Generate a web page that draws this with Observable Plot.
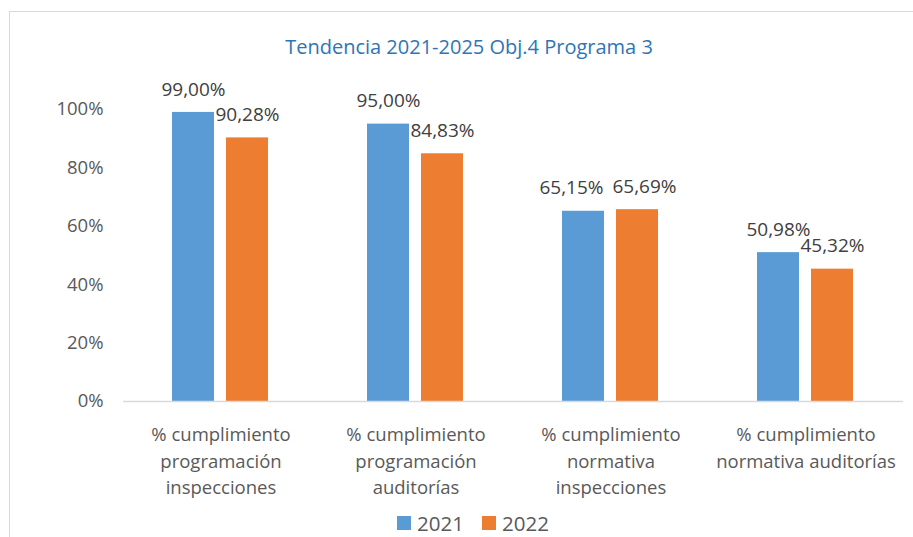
<!DOCTYPE html>
<html>
<head>
<meta charset="utf-8">
<script src="https://cdn.jsdelivr.net/npm/d3@7"></script>
<script src="https://cdn.jsdelivr.net/npm/@observablehq/plot@0.6"></script>
<style>
  html, body { margin: 0; padding: 0; background: #fff; }
  body { width: 913px; height: 537px; overflow: hidden; position: relative; font-family: "Open Sans", sans-serif; }
  #frame { position: absolute; left: 9px; top: 11px; width: 918px; height: 560px; border-left: 1px solid #D9D9D9; border-top: 1px solid #D9D9D9; border-right: 1px solid #D9D9D9; }
  #title { padding-top: 21px; height: 27px; line-height: 27px; padding-bottom: 12px; text-align: center; font-size: 20px; color: #2E75B6; }
  #chart svg { display: block; }
  #legend { margin-top: 4px; height: 28px; line-height: 28px; font-size: 20.5px; color: #595959; text-align: center; padding-left: 8px; }
  .item { display: inline-flex; align-items: center; }
  .sw { display: inline-block; width: 14px; height: 14px; margin-right: 6px; }
</style>
</head>
<body>
<div id="frame">
  <div id="title">Tendencia 2021-2025 Obj.4 Programa 3</div>
  <div id="chart"></div>
  <div id="legend"></div>
</div>
<script>
const categories = [
  "% cumplimiento\nprogramación\ninspecciones",
  "% cumplimiento\nprogramación\nauditorías",
  "% cumplimiento\nnormativa\ninspecciones",
  "% cumplimiento\nnormativa auditorías"
];
const years = ["2021", "2022"];
const values2021 = [0.99, 0.95, 0.6515, 0.5098];
const values2022 = [0.9028, 0.8483, 0.6569, 0.4532];
const yTicks = [0, 0.2, 0.4, 0.6, 0.8, 1];
const colors = ["#5B9BD5", "#ED7D31"];

const data = [];
categories.forEach((c, i) => {
  data.push({cat: c, idx: i, year: years[0], value: values2021[i]});
  data.push({cat: c, idx: i, year: years[1], value: values2022[i]});
});
const fmt = v => (v * 100).toFixed(2).replace(".", ",") + "%";

// labels of the third group are nudged apart (as in the original) so they don't collide
const crowded = 2;
const labelBase = {fx: "cat", x: "year", y: "value", text: d => fmt(d.value), dy: -23, fill: "#404040", fontSize: 19};

const chart = Plot.plot({
  width: 903,
  height: 432,
  marginLeft: 112,
  marginRight: 10,
  marginTop: 37,
  marginBottom: 103,
  style: {fontFamily: "Open Sans", fontSize: "18.5px", color: "#595959", background: "transparent"},
  fx: {domain: categories, padding: 0, label: null},
  x: {domain: years, paddingInner: 12 / 55, paddingOuter: 0.882, axis: null},
  y: {domain: [0, 1], label: null},
  color: {domain: years, range: colors},
  marks: [
    Plot.axisY({ticks: yTicks, tickFormat: d => Math.round(d * 100) + "%", tickSize: 0, tickPadding: 20, label: null, fill: "#595959", fontSize: 18.5}),
    Plot.axisFx({anchor: "bottom", tickSize: 0, tickPadding: 21, label: null, lineHeight: 1.43, fill: "#595959", fontSize: 18.5}),
    Plot.barY(data, {fx: "cat", x: "year", y: "value", fill: "year"}),
    Plot.ruleY([0], {stroke: "#D9D9D9", strokeWidth: 1.5}),
    Plot.text(data.filter(d => d.idx !== crowded), labelBase),
    Plot.text(data.filter(d => d.idx === crowded && d.year === years[0]), {...labelBase, dx: -12}),
    Plot.text(data.filter(d => d.idx === crowded && d.year === years[1]), {...labelBase, dx: 7})
  ]
});
document.getElementById("chart").appendChild(chart);

const legend = document.getElementById("legend");
years.forEach((y, i) => {
  const item = document.createElement("span");
  item.className = "item";
  if (i > 0) item.style.marginLeft = "18px";
  const sw = document.createElement("span");
  sw.className = "sw";
  sw.style.background = colors[i];
  item.appendChild(sw);
  item.appendChild(document.createTextNode(y));
  legend.appendChild(item);
});
</script>
</body>
</html>
